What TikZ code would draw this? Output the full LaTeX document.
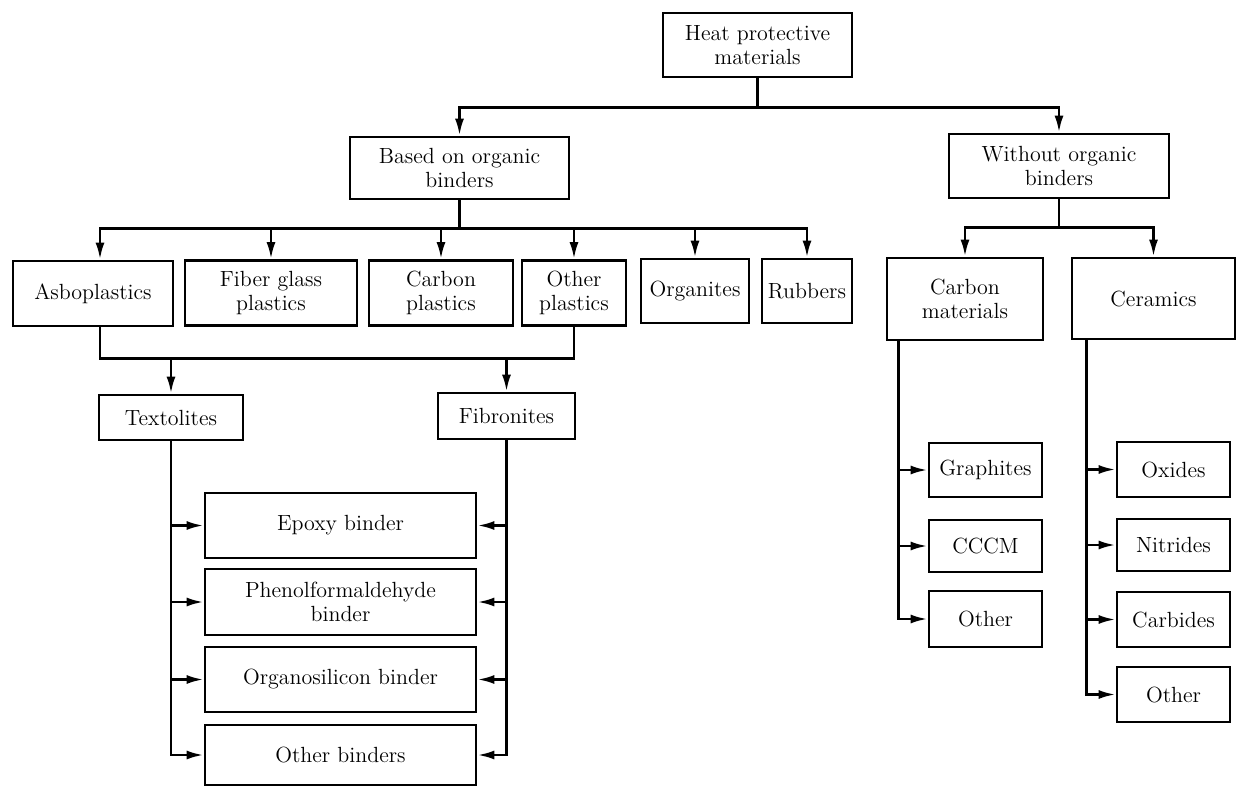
\documentclass[tikz,border=0pt]{standalone}
\usepackage{tikz}
\usetikzlibrary{arrows.meta}
\usetikzlibrary{calc}

\begin{document}
\begin{tikzpicture}[x=0.02cm, y=-0.02cm,
            every node/.style = {draw, rectangle, line width=1.6pt, align=center,
                inner sep=1pt, font=\fontsize{12.5}{13.6}\selectfont},
            link/.style = {line width=1.5pt, -{Latex[length=3.4mm,width=1.8mm]}},
            line/.style = {line width=1.5pt}
            ]
            \useasboundingbox (0,0) rectangle (1237,787);

            % top levels
            \node (heat) at (757.5,45) [minimum width=3.78cm, minimum height=1.28cm] {Heat protective\\materials};
            \node (based) at (459.5,168) [minimum width=4.38cm, minimum height=1.24cm] {Based on organic\\binders};
            \node (without) at (1059,166) [minimum width=4.4cm, minimum height=1.28cm] {Without organic\\binders};

            % kinds of plastics
            \node (asbo) at (93,293.5) [minimum width=3.2cm, minimum height=1.3cm] {Asboplastics};
            \node (fiber) at (271,293) [minimum width=3.44cm, minimum height=1.3cm] {Fiber glass\\plastics};
            \node (carbp) at (441,293) [minimum width=2.88cm, minimum height=1.3cm] {Carbon\\plastics};
            \node (othp) at (574,293) [minimum width=2.08cm, minimum height=1.3cm] {Other\\plastics};
            \node (orgn) at (695,291) [minimum width=2.16cm, minimum height=1.28cm] {Organites};
            \node (rubb) at (807,291) [minimum width=1.8cm, minimum height=1.28cm] {Rubbers};
            \node (cmat) at (965,299) [minimum width=3.12cm, minimum height=1.64cm] {Carbon\\materials};
            \node (ceram) at (1153.5,298.5) [minimum width=3.26cm, minimum height=1.62cm] {Ceramics};

            \node (textol) at (171,417.5) [minimum width=2.88cm, minimum height=0.9cm] {Textolites};
            \node (fibro) at (506.5,416) [minimum width=2.74cm, minimum height=0.92cm] {Fibronites};

            % binders
            \node (epoxy) at (340.5,525.5) [minimum width=5.42cm, minimum height=1.3cm] {Epoxy binder};
            \node (phenol) at (340.5,602) [minimum width=5.42cm, minimum height=1.32cm] {Phenolformaldehyde\\binder};
            \node (organo) at (340.5,679.5) [minimum width=5.42cm, minimum height=1.3cm] {Organosilicon binder};
            \node (othb) at (340.5,755) [minimum width=5.42cm, minimum height=1.2cm] {Other binders};

            % carbon materials and ceramics
            \node (graph) at (985.5,470) [minimum width=2.26cm, minimum height=1.08cm] {Graphites};
            \node (cccm) at (985.5,546) [minimum width=2.26cm, minimum height=1.04cm] {CCCM};
            \node (oth1) at (985.5,619) [minimum width=2.26cm, minimum height=1.12cm] {Other};
            \node (oxid) at (1173.5,469.5) [minimum width=2.26cm, minimum height=1.1cm] {Oxides};
            \node (nitr) at (1173.5,545) [minimum width=2.26cm, minimum height=1.04cm] {Nitrides};
            \node (carb) at (1173.5,619.5) [minimum width=2.26cm, minimum height=1.1cm] {Carbides};
            \node (oth2) at (1173.5,694.5) [minimum width=2.26cm, minimum height=1.1cm] {Other};

            \draw[link] (heat.south) -- ++(0,29) -| (based.north);
            \draw[link] (heat.south) -- ++(0,29) -| (without.north);

            \draw[link] (based.south) -- ++(0,28) -| ([xshift=0.14cm]asbo.north);
            \draw[link] (based.south) -- ++(0,28) -| (fiber.north);
            \draw[link] (based.south) -- ++(0,28) -| (carbp.north);
            \draw[link] (based.south) -- ++(0,28) -| (othp.north);
            \draw[link] (based.south) -- ++(0,28) -| (orgn.north);
            \draw[link] (based.south) -- ++(0,28) -| (rubb.north);
            \draw[link] (without.south) -- ++(0,28) -| (cmat.north);
            \draw[link] (without.south) -- ++(0,28) -| (ceram.north);

            \draw[line] ([xshift=0.14cm]asbo.south) -- ++(0,31) coordinate (mb) -| (othp.south);
            \draw[link] (textol.north |- mb) -- (textol.north);
            \draw[link] (fibro.north |- mb) -- (fibro.north);

            \draw[link] (textol.south) |- (epoxy);
            \draw[link] (textol.south) |- (phenol);
            \draw[link] (textol.south) |- (organo);
            \draw[link] (textol.south) |- (othb);
            \draw[link] (fibro.south) |- (epoxy);
            \draw[link] (fibro.south) |- (phenol);
            \draw[link] (fibro.south) |- (organo);
            \draw[link] (fibro.south) |- (othb);

            \draw[link] ([xshift=0.26cm]cmat.south west) |- (graph);
            \draw[link] ([xshift=0.26cm]cmat.south west) |- (cccm);
            \draw[link] ([xshift=0.26cm]cmat.south west) |- (oth1);
            \draw[link] ([xshift=0.32cm]ceram.south west) |- (oxid);
            \draw[link] ([xshift=0.32cm]ceram.south west) |- (nitr);
            \draw[link] ([xshift=0.32cm]ceram.south west) |- (carb);
            \draw[link] ([xshift=0.32cm]ceram.south west) |- (oth2);
        \end{tikzpicture}
\end{document}
